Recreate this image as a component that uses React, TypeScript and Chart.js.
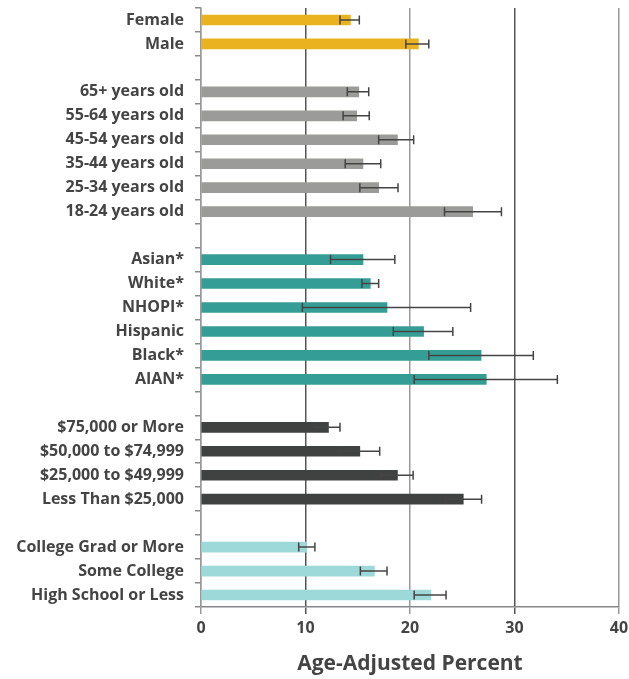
import React, { useEffect, useRef } from "react";
import { Chart, registerables } from "chart.js";

Chart.register(...registerables);

const categories = [
  "Female", "Male", "",
  "65+ years old", "55-64 years old", "45-54 years old", "35-44 years old", "25-34 years old", "18-24 years old", "",
  "Asian*", "White*", "NHOPI*", "Hispanic", "Black*", "AIAN*", "",
  "$75,000 or More", "$50,000 to $74,999", "$25,000 to $49,999", "Less Than $25,000", "",
  "College Grad or More", "Some College", "High School or Less",
];

const values = [
  14.3, 20.8, null,
  15.1, 14.9, 18.8, 15.5, 17.0, 26.0, null,
  15.5, 16.2, 17.8, 21.3, 26.8, 27.3, null,
  12.2, 15.2, 18.8, 25.1, null,
  10.1, 16.6, 22.0,
];

const lower = [
  13.3, 19.6, null,
  14.0, 13.6, 17.0, 13.8, 15.2, 23.3, null,
  12.4, 15.4, 9.7, 18.4, 21.8, 20.4, null,
  11.0, 13.3, 17.2, 23.4, null,
  9.35, 15.25, 20.4,
];

const upper = [
  15.15, 21.8, null,
  16.05, 16.1, 20.35, 17.2, 18.85, 28.75, null,
  18.55, 17.0, 25.8, 24.1, 31.8, 34.1, null,
  13.3, 17.1, 20.3, 26.85, null,
  10.9, 17.8, 23.45,
];

const groups = [
  "sex", "sex", "",
  "age", "age", "age", "age", "age", "age", "",
  "race", "race", "race", "race", "race", "race", "",
  "income", "income", "income", "income", "",
  "edu", "edu", "edu",
];

const xTicks = [0, 10, 20, 30, 40];
const xTitle = "Age-Adjusted Percent";

const palette: Record<string, string> = {
  sex: "#EAB21F",
  age: "#9B9B99",
  race: "#349E96",
  income: "#404241",
  edu: "#9DD9D9",
  "": "rgba(0,0,0,0)",
};

const FONT = "'Open Sans', 'DejaVu Sans', sans-serif";

const errorBarPlugin = {
  id: "errorBars",
  afterDatasetsDraw(chart: any) {
    const ctx = chart.ctx;
    const xs = chart.scales.x;
    const ys = chart.scales.y;
    ctx.save();
    ctx.strokeStyle = "#444444";
    ctx.lineWidth = 1.5;
    for (let i = 0; i < categories.length; i++) {
      const lo = lower[i];
      const hi = upper[i];
      if (lo == null || hi == null) continue;
      const y = ys.getPixelForValue(i);
      const x1 = xs.getPixelForValue(lo);
      const x2 = xs.getPixelForValue(hi);
      ctx.beginPath();
      ctx.moveTo(x1, y);
      ctx.lineTo(x2, y);
      ctx.moveTo(x1, y - 4.5);
      ctx.lineTo(x1, y + 4.5);
      ctx.moveTo(x2, y - 4.5);
      ctx.lineTo(x2, y + 4.5);
      ctx.stroke();
    }
    ctx.restore();
  },
};

export default function App() {
  const ref = useRef<HTMLCanvasElement | null>(null);
  useEffect(() => {
    if (!ref.current) return;
    const chart = new Chart(ref.current, {
      type: "bar",
      data: {
        labels: categories,
        datasets: [
          {
            data: values as any,
            backgroundColor: groups.map((g) => palette[g]),
            barThickness: 10,
            borderWidth: 0,
          },
        ],
      },
      options: {
        indexAxis: "y",
        animation: false,
        responsive: true,
        maintainAspectRatio: false,
        layout: { padding: { top: 8, right: 10, left: 0, bottom: 0 } },
        plugins: {
          legend: { display: false },
          tooltip: { enabled: false },
        },
        scales: {
          x: {
            min: 0,
            max: 40,
            afterBuildTicks: (scale: any) => {
              scale.ticks = xTicks.map((v) => ({ value: v }));
            },
            afterFit: (scale: any) => {
              scale.height = 72;
              scale.paddingLeft = 0;
              scale.paddingRight = 0;
            },
            border: { display: true, color: "#888888", width: 1.5 },
            grid: {
              drawOnChartArea: true,
              drawTicks: true,
              tickLength: 7,
              color: (c: any) => (c.index % 2 === 1 ? "#555555" : "#999999"),
              lineWidth: 1.5,
            },
            ticks: {
              padding: 5,
              color: "#444444",
              font: { family: FONT, size: 16, weight: "bold" },
            },
            title: {
              display: true,
              text: xTitle,
              color: "#444444",
              font: { family: FONT, size: 21, weight: "bold" },
              padding: { top: 0, bottom: 2 },
            },
          },
          y: {
            afterFit: (scale: any) => {
              scale.width = 201;
              scale.paddingTop = 0;
              scale.paddingBottom = 0;
            },
            border: { display: true, color: "#999999", width: 1.5 },
            grid: {
              offset: true,
              drawOnChartArea: false,
              drawTicks: true,
              tickLength: 6,
              color: "#888888",
              lineWidth: 1.5,
            },
            ticks: {
              padding: 11,
              autoSkip: false,
              color: "#444444",
              font: { family: FONT, size: 16, weight: "bold" },
            },
          },
        },
      },
      plugins: [errorBarPlugin],
    } as any);
    return () => chart.destroy();
  }, []);
  return (
    <div style={{ position: "absolute", left: 0, top: 0, width: 629, height: 679 }}>
      <canvas ref={ref} />
    </div>
  );
}
